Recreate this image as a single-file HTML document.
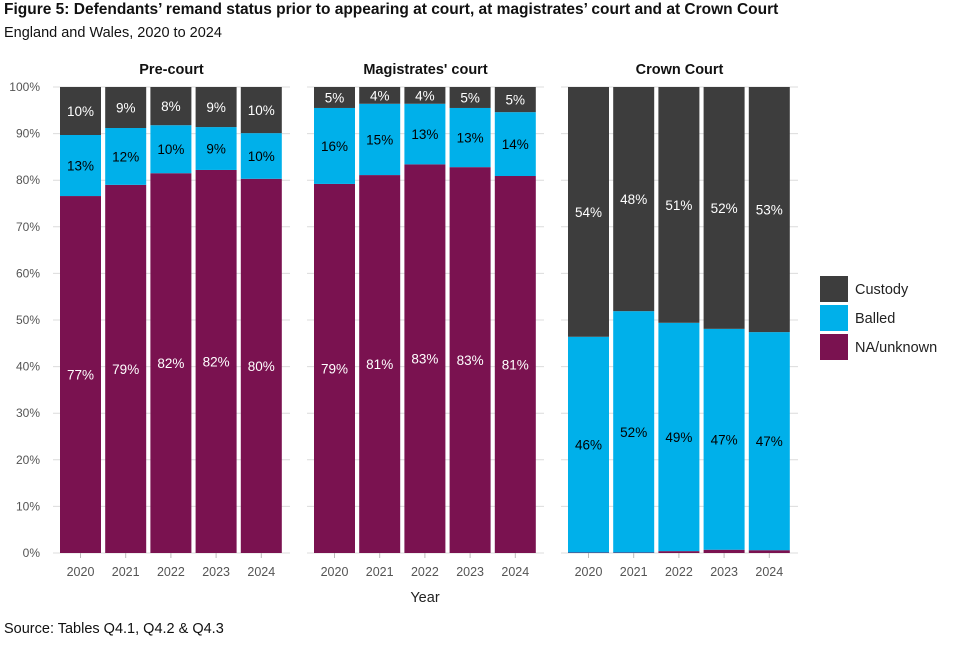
<!DOCTYPE html>
<html><head><meta charset="utf-8"><style>
body{margin:0;background:#fff;font-family:"Liberation Sans",sans-serif}
</style></head><body>
<svg id="c" width="960" height="640" xmlns="http://www.w3.org/2000/svg" font-family="Liberation Sans, sans-serif">
<text x="4" y="14" font-size="15.5" font-weight="bold" fill="#111">Figure 5: Defendants’ remand status prior to appearing at court, at magistrates’ court and at Crown Court</text>
<text x="4" y="37" font-size="14.5" fill="#111">England and Wales, 2020 to 2024</text>
<text x="4" y="633" font-size="14.5" fill="#111">Source: Tables Q4.1, Q4.2 &amp; Q4.3</text>
<text x="425" y="602" font-size="14.5" text-anchor="middle" fill="#222">Year</text>
<g id="plot"></g>
<g id="legend"></g>
</svg>
<script>
const years=["2020","2021","2022","2023","2024"];
const panels=["Pre-court","Magistrates' court","Crown Court"];
const naVals=[[76.6,79.0,81.5,82.2,80.3],[79.2,81.1,83.4,82.8,80.9],[0.1,0.1,0.4,0.7,0.6]];
const balledVals=[[13.1,12.2,10.3,9.2,9.8],[16.3,15.3,13.0,12.7,13.7],[46.3,51.8,49.0,47.4,46.8]];
const custodyVals=[[10.3,8.8,8.2,8.6,9.9],[4.5,3.6,3.6,4.5,5.4],[53.6,48.1,50.6,51.9,52.6]];
const yTicks=[0,10,20,30,40,50,60,70,80,90,100];
const colors={c:"#3d3d3d",b:"#00b0ea",n:"#7a1250"};
const ns="http://www.w3.org/2000/svg";
const g=document.getElementById('plot');
const y0=553,y1=87;
const Y=v=>y0-(v/100)*(y0-y1);
const panelX=[53,307,561], panelW=237, barW=41, step=45.2, barOff=7;
function el(t,a,p){const e=document.createElementNS(ns,t);for(const k in a)e.setAttribute(k,a[k]);(p||g).appendChild(e);return e;}
yTicks.forEach(t=>{
  const tx=el('text',{x:40,y:Y(t)+4,'font-size':12,'text-anchor':'end',fill:'#555'});tx.textContent=t+'%';
  
  
});
panels.forEach((p,pi)=>{
  const px=panelX[pi];
  yTicks.forEach(t=>{
    const l=el('line',{x1:px,x2:px+panelW,y1:Y(t),y2:Y(t),stroke:'#dcdcdc','stroke-width':1});
    
    
  });
  const st=el('text',{x:px+panelW/2,y:74,'font-size':14.5,'font-weight':'bold','text-anchor':'middle',fill:'#111'});st.textContent=p;
  
  
  years.forEach((yr,i)=>{
    const bx=px+barOff+i*step, cx=bx+barW/2;
    const n=naVals[pi][i], b=balledVals[pi][i], c=custodyVals[pi][i];
    const segs=[[0,n,colors.n,'#fff','na'],[n,n+b,colors.b,'#000','balled'],[n+b,n+b+c,colors.c,'#fff','custody']];
    segs.forEach(s=>{
      const r=el('rect',{x:bx,y:Y(s[1]),width:barW,height:Math.max(0,Y(s[0])-Y(s[1])),fill:s[2]});
      
      
      const v=s[1]-s[0];
      if(v>=2){
        const t=el('text',{x:cx,y:(Y(s[0])+Y(s[1]))/2+5,'font-size':13.5,'text-anchor':'middle',fill:s[3]});
        t.textContent=Math.round(v)+'%';
        
        
      }
    });
    const tk=el('line',{x1:cx,x2:cx,y1:y0,y2:y0+5,stroke:'#bbb'});
    
    
    const xl=el('text',{x:cx,y:576,'font-size':12.5,'text-anchor':'middle',fill:'#555'});xl.textContent=yr;
    
    
  });
});
const lg=document.getElementById('legend');
[["Custody",colors.c],["Balled",colors.b],["NA/unknown",colors.n]].forEach((d,i)=>{
  const r=el('rect',{x:820,y:276+i*29,width:28,height:26,fill:d[1]},lg);
  
  
  const t=el('text',{x:855,y:294+i*29,'font-size':14.5,fill:'#222'},lg);t.textContent=d[0];
  
  
});
</script>
</body></html>
